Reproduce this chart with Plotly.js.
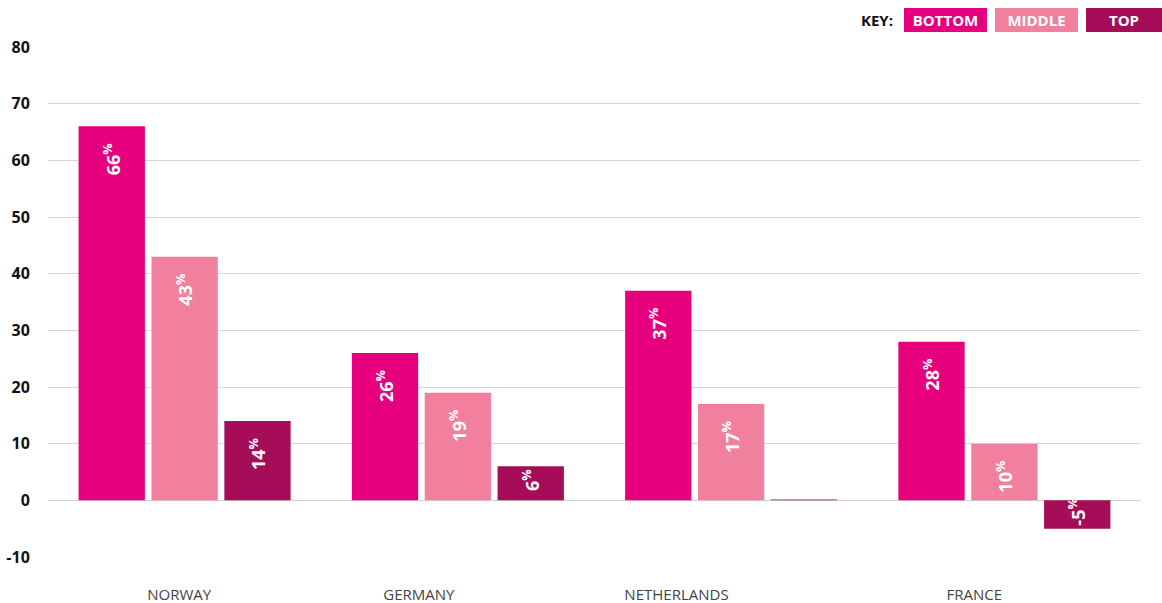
<!DOCTYPE html>
<html><head><meta charset="utf-8">
<script src="https://cdn.plot.ly/plotly-3.0.1.min.js"></script>
<style>html,body{margin:0;padding:0;background:#fff}#chart{width:1162px;height:603px}</style>
</head><body><div id="chart"></div>
<script>
const countries = ["NORWAY", "GERMANY", "NETHERLANDS", "FRANCE"];
const seriesNames = ["BOTTOM", "MIDDLE", "TOP"];
const bottomValues = [66, 26, 37, 28];
const middleValues = [43, 19, 17, 10];
const topValues = [14, 6, 0.15, -5];
const topLabels = ["14", "6", "", "-5"];
const yTicks = [-10, 0, 10, 20, 30, 40, 50, 60, 70, 80];

const colors = ["#E6007E", "#F17F9E", "#A50D59"];
const valuesList = [bottomValues, middleValues, topValues];
const labelsList = [bottomValues.map(String), middleValues.map(String), topLabels];
const xIdx = countries.map((c, i) => i);
const NB = "\u00A0";

const traces = valuesList.map((vals, k) => ({
  type: "bar",
  name: seriesNames[k],
  x: xIdx,
  y: vals,
  marker: {color: colors[k]},
  text: labelsList[k].map((t, i) => t === "" ? "" :
        t + "<sup>%</sup>" + (Math.abs(vals[i]) >= 10 ? NB + NB + NB : "")),
  textposition: "inside",
  insidetextanchor: "end",
  textangle: -90,
  textfont: {family: "Open Sans", size: 18, color: "#fff", weight: 700},
  hoverinfo: "skip",
  cliponaxis: false
}));

// label offsets relative to group centres (as placed in the reference)
const labelPos = [-0.02, 0.857, 1.80, 2.89];
traces.push({type: "scatter", x: labelPos, y: [null, null, null, null], xaxis: "x2", showlegend: false, hoverinfo: "skip"});

const layout = {
  width: 1162, height: 603,
  margin: {l: 48, r: 21, t: 47, b: 46},
  paper_bgcolor: "#fff", plot_bgcolor: "#fff",
  showlegend: false,
  barmode: "group",
  bargap: 0.2,
  bargroupgap: 0.09,
  uniformtext: {minsize: 18, mode: "show"},
  font: {family: "Open Sans"},
  xaxis: {
    range: [-0.5, 3.5], showticklabels: false, showgrid: false, zeroline: false,
    tickvals: [], fixedrange: true
  },
  xaxis2: {
    overlaying: "x", range: [-0.5, 3.5], side: "bottom",
    tickmode: "array", tickvals: labelPos, ticktext: countries,
    ticks: "outside", ticklen: 24, tickcolor: "rgba(0,0,0,0)",
    tickfont: {family: "Open Sans", size: 15, color: "#444"},
    showgrid: false, zeroline: false, showline: false
  },
  yaxis: {
    range: [-10, 80], tickmode: "array", tickvals: yTicks,
    ticktext: yTicks.map(String),
    tickfont: {family: "Open Sans", size: 16, color: "#111", weight: 700},
    gridcolor: "#d6d6d6", gridwidth: 1,
    zeroline: true, zerolinecolor: "#cfcfcf", zerolinewidth: 1,
    ticks: "outside", ticklen: 14, tickcolor: "rgba(0,0,0,0)",
    showline: false
  },
  annotations: [
    {xref: "paper", yref: "paper", xanchor: "right", yanchor: "middle",
     x: (895 - 48) / 1093, y: 1 + (47 - 20) / 510, text: "<b>KEY:</b>", showarrow: false,
     font: {family: "Open Sans", size: 15, color: "#111"}},
    ...seriesNames.map((n, k) => ({
      xref: "paper", yref: "paper", xanchor: "left", yanchor: "middle",
      x: ([904, 995, 1086][k] - 48) / 1093, y: 1 + (47 - 20) / 510,
      text: "<b>" + n + "</b>", showarrow: false,
      bgcolor: colors[k], width: [83, 83, 76][k], height: 24,
      borderpad: 0, borderwidth: 0,
      font: {family: "Open Sans", size: 15, color: "#fff"}
    }))
  ]
};

Plotly.newPlot("chart", traces, layout, {displayModeBar: false, staticPlot: true});
</script>
</body></html>
